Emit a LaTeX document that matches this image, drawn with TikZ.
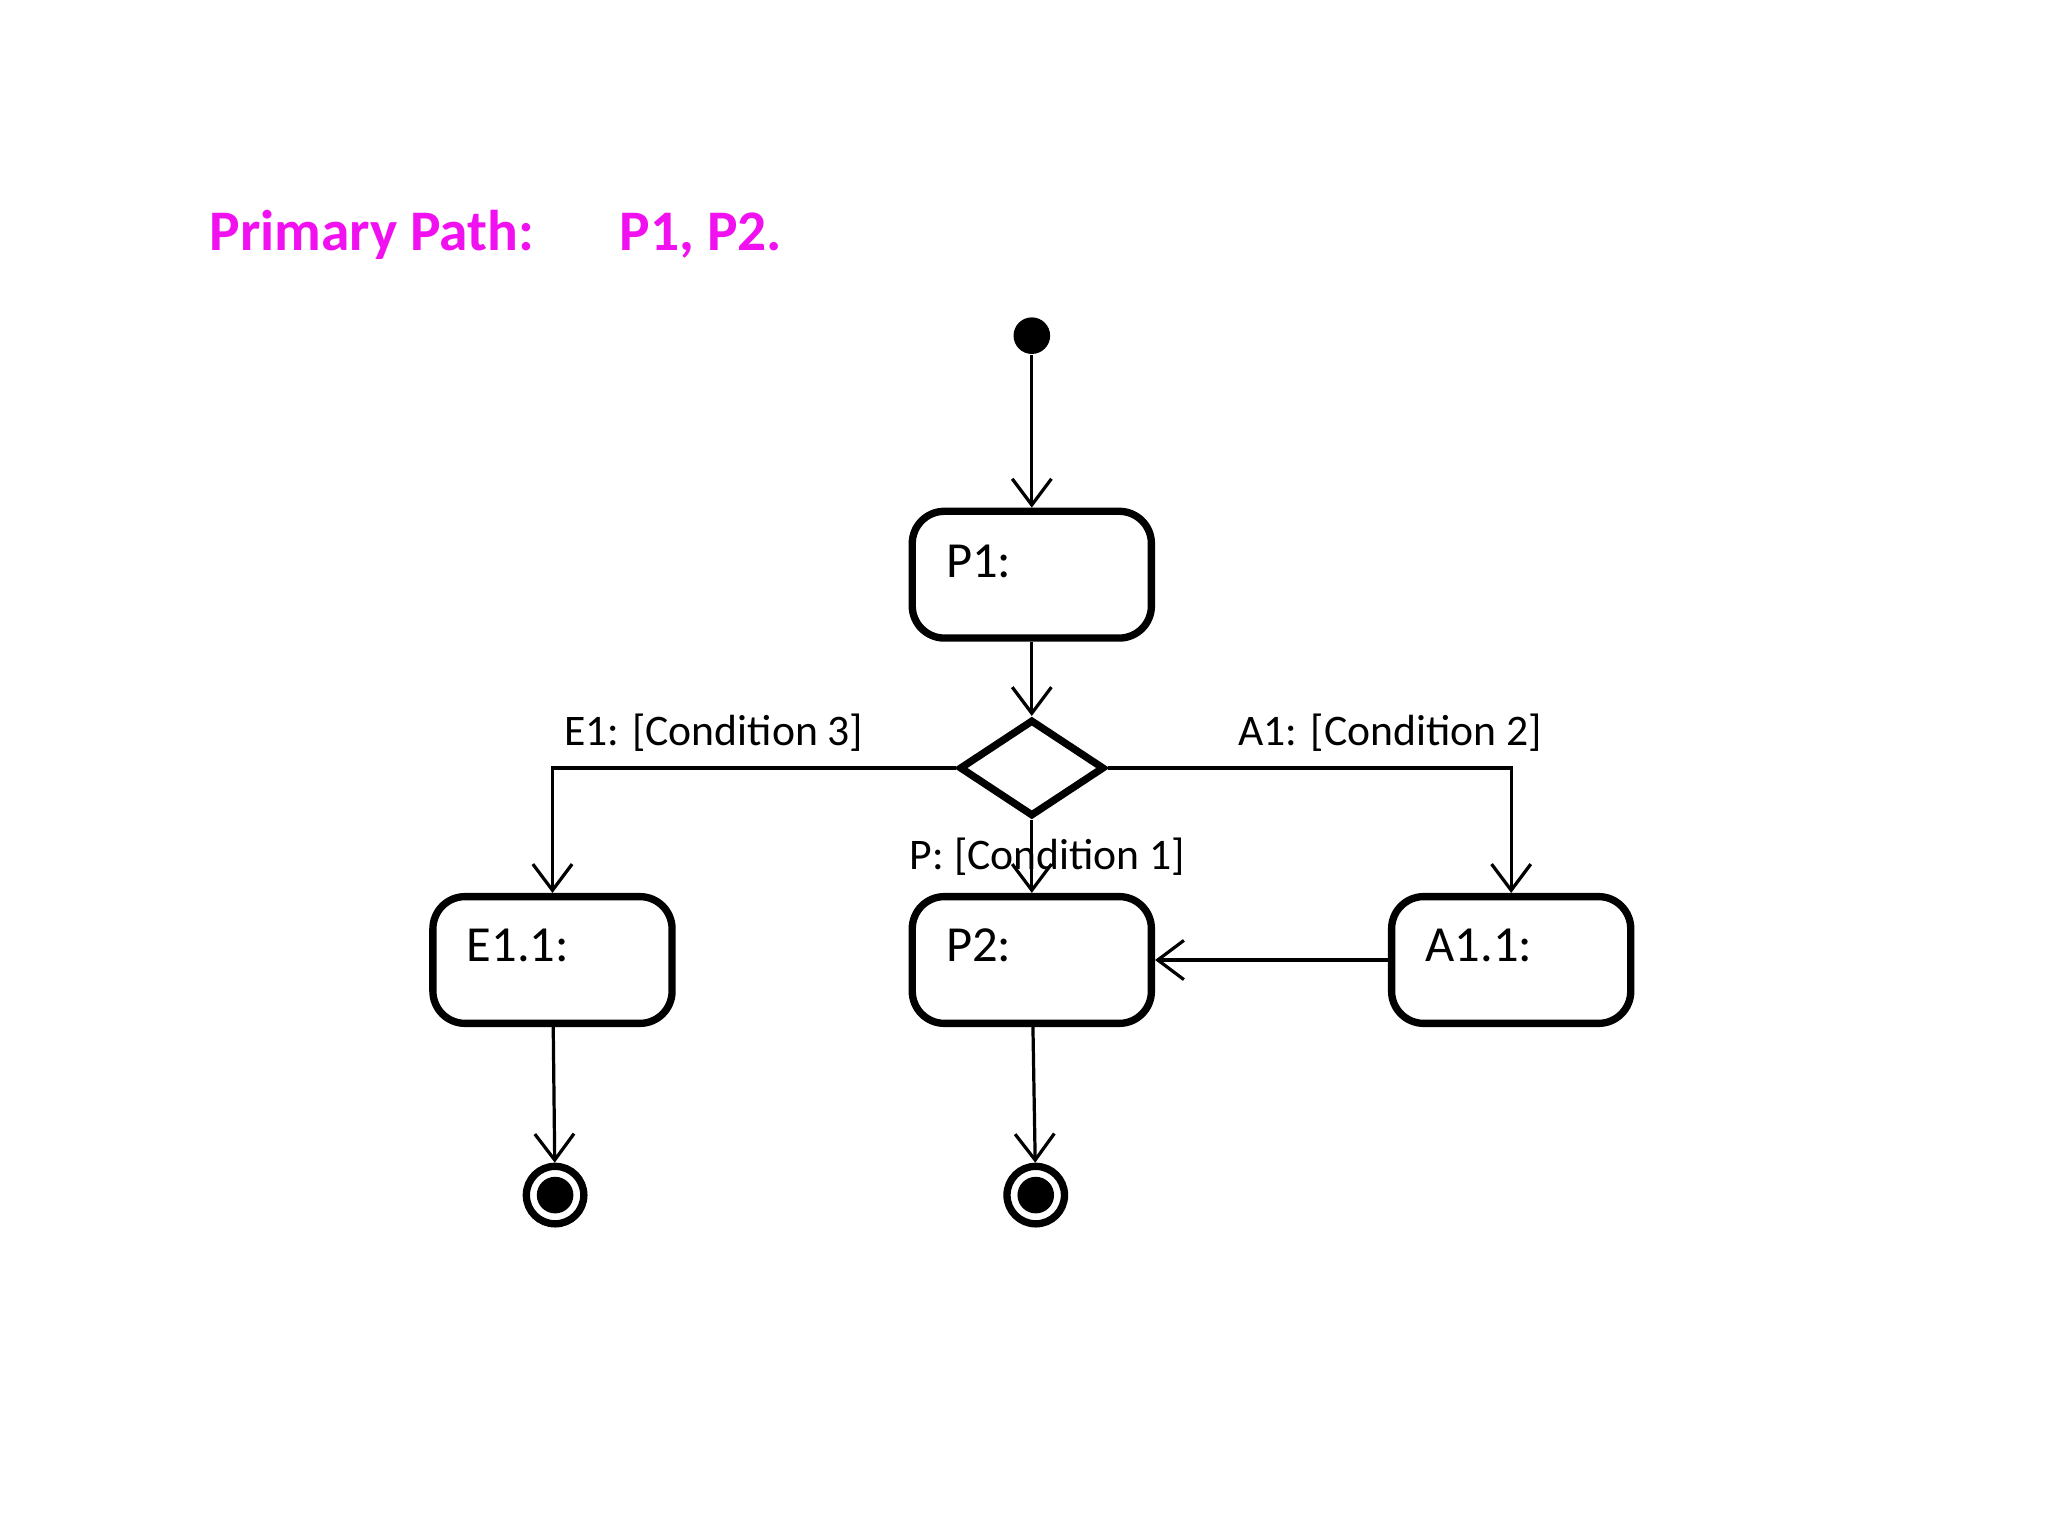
\documentclass[tikz,border=0pt]{standalone}
\usepackage{fontspec}
\setmainfont{Carlito}
\usetikzlibrary{shapes.geometric,arrows.meta}
\definecolor{pathpink}{HTML}{F010F0}

\begin{document}
\begin{tikzpicture}[x=0.01cm,y=-0.01cm,>={Straight Barb[length=2mm,width=3mm]},
    state/.style={draw, line width=1.6pt, rounded corners=7pt, minimum width=1.83cm, minimum height=0.97cm},
    lbl/.style={font=\fontsize{11}{13}\selectfont, anchor=west},
    cond/.style={font=\fontsize{9.5}{11}\selectfont},
    flow/.style={->, line width=0.7pt}]
    \useasboundingbox (0,0) rectangle (1568,1176);
    % Title
    \node[text=pathpink, font=\bfseries\fontsize{12.5}{15}\selectfont, anchor=west] (title) at (148,180) {Primary Path:};
    \node[text=pathpink, font=\bfseries\fontsize{12.5}{15}\selectfont, anchor=west] (path) at (462,180) {P1, P2.};

    % Start and decision
    \node[circle, fill, inner sep=0pt, minimum size=0.28cm] (start) at (790,257) {};
    \node[state] (p1) at (790,440) {};
    \node[lbl] at (712,430) {P1:};
    \node[diamond, draw, line width=1.6pt, aspect=1.5, minimum width=1.11cm, minimum height=0.74cm, inner sep=0pt] (dec) at (790,588) {};

    % States
    \node[state] (e11) at (423,735) {};
    \node[lbl] at (345,724) {E1.1:};
    \node[state] (p2) at (790,735) {};
    \node[lbl] at (712,724) {P2:};
    \node[state] (a11) at (1157,735) {};
    \node[lbl] at (1079,724) {A1.1:};

    % End states
    \foreach \n/\x in {endE/425, endP/793} {
        \node[circle, draw, line width=1.6pt, minimum size=0.44cm, inner sep=0pt] (\n) at (\x,915) {};
        \fill (\n) circle (0.14cm);
    }

    % Arrows
    \draw[flow] (start) -- (p1);
    \draw[flow] (p1) -- (dec);
    \draw[flow] (dec.west) -| (e11.north) node[cond, pos=0.3, above] {E1: [Condition 3]};
    \draw[flow] (dec.east) -| (a11.north) node[cond, pos=0.35, above] {A1: [Condition 2]};
    \draw[flow] (dec) -- (p2) node[cond, midway, xshift=0.12cm] {P: [Condition 1]};
    \draw[flow] (a11.west) -- (p2.east);
    \draw[flow] (e11) -- (endE);
    \draw[flow] (p2) -- (endP);
\end{tikzpicture}
\end{document}
